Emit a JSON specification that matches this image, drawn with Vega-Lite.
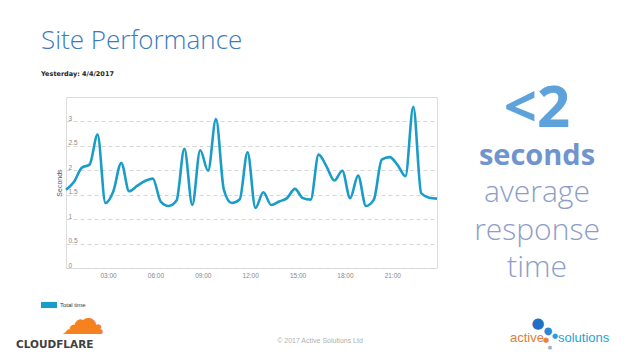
{
  "$schema": "https://vega.github.io/schema/vega-lite/v6.json",
  "background": "white",
  "padding": {"left": 16, "top": 27, "right": 0, "bottom": 0},
  "title": {
    "text": "Site Performance",
    "subtitle": "Yesterday: 4/4/2017",
    "anchor": "start",
    "frame": "bounds",
    "dx": 25,
    "font": "Open Sans",
    "fontSize": 26,
    "fontWeight": 300,
    "color": "#3a7bbf",
    "subtitleFont": "DejaVu Sans",
    "subtitleFontSize": 6.5,
    "subtitleFontWeight": "bold",
    "subtitleColor": "#222222",
    "subtitlePadding": 17,
    "offset": 4
  },
  "datasets": {
    "perf": [
      {"time": "2017-04-04T00:20", "value": 1.60, "series": "Total time"},
      {"time": "2017-04-04T00:50", "value": 1.76, "series": "Total time"},
      {"time": "2017-04-04T01:20", "value": 2.05, "series": "Total time"},
      {"time": "2017-04-04T01:50", "value": 2.12, "series": "Total time"},
      {"time": "2017-04-04T02:20", "value": 2.73, "series": "Total time"},
      {"time": "2017-04-04T02:50", "value": 1.33, "series": "Total time"},
      {"time": "2017-04-04T03:20", "value": 1.57, "series": "Total time"},
      {"time": "2017-04-04T03:50", "value": 2.15, "series": "Total time"},
      {"time": "2017-04-04T04:20", "value": 1.57, "series": "Total time"},
      {"time": "2017-04-04T04:50", "value": 1.68, "series": "Total time"},
      {"time": "2017-04-04T05:20", "value": 1.78, "series": "Total time"},
      {"time": "2017-04-04T05:50", "value": 1.83, "series": "Total time"},
      {"time": "2017-04-04T06:20", "value": 1.36, "series": "Total time"},
      {"time": "2017-04-04T06:50", "value": 1.27, "series": "Total time"},
      {"time": "2017-04-04T07:20", "value": 1.38, "series": "Total time"},
      {"time": "2017-04-04T07:50", "value": 2.44, "series": "Total time"},
      {"time": "2017-04-04T08:20", "value": 1.29, "series": "Total time"},
      {"time": "2017-04-04T08:50", "value": 2.41, "series": "Total time"},
      {"time": "2017-04-04T09:20", "value": 1.99, "series": "Total time"},
      {"time": "2017-04-04T09:50", "value": 3.05, "series": "Total time"},
      {"time": "2017-04-04T10:20", "value": 1.60, "series": "Total time"},
      {"time": "2017-04-04T10:50", "value": 1.33, "series": "Total time"},
      {"time": "2017-04-04T11:20", "value": 1.40, "series": "Total time"},
      {"time": "2017-04-04T11:50", "value": 2.37, "series": "Total time"},
      {"time": "2017-04-04T12:20", "value": 1.23, "series": "Total time"},
      {"time": "2017-04-04T12:50", "value": 1.55, "series": "Total time"},
      {"time": "2017-04-04T13:20", "value": 1.29, "series": "Total time"},
      {"time": "2017-04-04T13:50", "value": 1.36, "series": "Total time"},
      {"time": "2017-04-04T14:20", "value": 1.43, "series": "Total time"},
      {"time": "2017-04-04T14:50", "value": 1.62, "series": "Total time"},
      {"time": "2017-04-04T15:20", "value": 1.43, "series": "Total time"},
      {"time": "2017-04-04T15:50", "value": 1.40, "series": "Total time"},
      {"time": "2017-04-04T16:20", "value": 2.32, "series": "Total time"},
      {"time": "2017-04-04T16:50", "value": 2.08, "series": "Total time"},
      {"time": "2017-04-04T17:20", "value": 1.79, "series": "Total time"},
      {"time": "2017-04-04T17:50", "value": 1.99, "series": "Total time"},
      {"time": "2017-04-04T18:20", "value": 1.43, "series": "Total time"},
      {"time": "2017-04-04T18:50", "value": 1.89, "series": "Total time"},
      {"time": "2017-04-04T19:20", "value": 1.27, "series": "Total time"},
      {"time": "2017-04-04T19:50", "value": 1.40, "series": "Total time"},
      {"time": "2017-04-04T20:20", "value": 2.22, "series": "Total time"},
      {"time": "2017-04-04T20:50", "value": 2.27, "series": "Total time"},
      {"time": "2017-04-04T21:20", "value": 2.11, "series": "Total time"},
      {"time": "2017-04-04T21:50", "value": 1.88, "series": "Total time"},
      {"time": "2017-04-04T22:20", "value": 3.30, "series": "Total time"},
      {"time": "2017-04-04T22:50", "value": 1.53, "series": "Total time"},
      {"time": "2017-04-04T23:20", "value": 1.44, "series": "Total time"},
      {"time": "2017-04-04T23:50", "value": 1.42, "series": "Total time"}
    ],
    "side": [
      {"t": "<2"},
      {"t": "seconds"},
      {"t": "average"},
      {"t": "response"},
      {"t": "time"}
    ],
    "foot": [
      {"slot": "left", "label": "CLOUDFLARE"},
      {"slot": "center", "label": "© 2017 Active Solutions Ltd"},
      {"slot": "right", "label": "active"},
      {"slot": "right", "label": "solutions"}
    ]
  },
  "vconcat": [
    {
      "hconcat": [
        {
          "width": 371,
          "height": 171,
          "data": {"name": "perf"},
          "mark": {"type": "line", "strokeWidth": 2.6, "interpolate": "monotone"},
          "encoding": {
            "x": {
              "field": "time",
              "type": "temporal",
              "axis": {
                "title": null,
                "format": "%H:%M",
                "values": [
                  {"year": 2017, "month": 4, "date": 4, "hours": 3},
                  {"year": 2017, "month": 4, "date": 4, "hours": 6},
                  {"year": 2017, "month": 4, "date": 4, "hours": 9},
                  {"year": 2017, "month": 4, "date": 4, "hours": 12},
                  {"year": 2017, "month": 4, "date": 4, "hours": 15},
                  {"year": 2017, "month": 4, "date": 4, "hours": 18},
                  {"year": 2017, "month": 4, "date": 4, "hours": 21}
                ],
                "ticks": false,
                "domain": false,
                "grid": false,
                "labelFontSize": 6.5,
                "labelColor": "#888888",
                "labelPadding": 4
              }
            },
            "y": {
              "field": "value",
              "type": "quantitative",
              "scale": {"domain": [0, 3.5], "nice": false},
              "axis": {
                "title": "Seconds",
                "titleFontSize": 7,
                "titleFontWeight": "normal",
                "titleColor": "#555555",
                "titleX": -4,
                "values": [0, 0.5, 1, 1.5, 2, 2.5, 3],
                "format": "~g",
                "grid": true,
                "gridDash": [4, 3],
                "gridColor": "#d6d6d6",
                "ticks": false,
                "domain": false,
                "labelAlign": "left",
                "labelBaseline": "bottom",
                "labelPadding": -2,
                "labelFontSize": 6.5,
                "labelColor": "#888888"
              }
            },
            "color": {
              "field": "series",
              "type": "nominal",
              "scale": {"range": ["#1a9cc8"]},
              "legend": {
                "title": null,
                "orient": "none",
                "legendX": -25,
                "legendY": 200,
                "padding": 0,
                "symbolType": "M-1,-0.38H1V0.38H-1Z",
                "symbolSize": 256,
                "labelFontSize": 6,
                "labelColor": "#333333",
                "labelOffset": 3,
                "encode": {"symbols": {"update": {"fill": {"value": "#1a9cc8"}, "fillOpacity": {"value": 1}, "strokeWidth": {"value": 0}}}}
              }
            }
          }
        },
        {
          "width": 160,
          "height": 210,
          "view": {"stroke": null},
          "data": {"name": "side"},
          "encoding": {
            "y": {
              "field": "t",
              "type": "nominal",
              "scale": {"type": "point", "padding": 0.8, "domain": ["<2", "seconds", "average", "response", "time"]},
              "axis": null
            },
            "text": {"field": "t"}
          },
          "layer": [
            {
              "transform": [{"filter": "datum.t === '<2'"}],
              "mark": {"type": "text", "font": "Open Sans", "fontSize": 58, "fontWeight": "bold", "color": "#5ea2dc", "baseline": "alphabetic"}
            },
            {
              "transform": [{"filter": "datum.t === 'seconds'"}],
              "mark": {"type": "text", "font": "Open Sans", "fontSize": 29, "fontWeight": "bold", "color": "#7094cd", "baseline": "alphabetic"}
            },
            {
              "transform": [{"filter": "datum.t !== '<2' && datum.t !== 'seconds'"}],
              "mark": {"type": "text", "font": "Open Sans", "fontSize": 30, "fontWeight": 300, "color": "#8c9ec8", "baseline": "alphabetic"}
            }
          ]
        }
      ],
      "spacing": 14
    },
    {
      "width": 508,
      "height": 20,
      "view": {"stroke": null},
      "data": {"name": "foot"},
      "encoding": {
        "x": {
          "field": "slot",
          "type": "nominal",
          "scale": {"type": "point", "padding": 0, "domain": ["left", "center", "right"]},
          "axis": null
        },
        "text": {"field": "label"}
      },
      "layer": [
        {
          "transform": [{"filter": "datum.label === 'CLOUDFLARE'"}],
          "mark": {"type": "text", "font": "DejaVu Sans", "fontSize": 44, "color": "#f6821f", "dx": 17, "dy": -20, "baseline": "middle"},
          "encoding": {"text": {"value": "☁"}}
        },
        {
          "transform": [{"filter": "datum.label === 'CLOUDFLARE'"}],
          "mark": {"type": "text", "font": "DejaVu Sans", "fontSize": 10.5, "fontWeight": "bold", "color": "#404041", "align": "left", "baseline": "middle", "dx": -50, "dy": 4}
        },
        {
          "transform": [{"filter": "datum.slot === 'center'"}],
          "mark": {"type": "text", "font": "Liberation Sans", "fontSize": 7, "color": "#b0b0b0", "baseline": "middle"}
        },
        {
          "transform": [{"filter": "datum.label === 'active'"}],
          "mark": {"type": "text", "font": "Liberation Sans", "fontSize": 13, "color": "#e07d3c", "align": "right", "baseline": "alphabetic", "dx": -30, "dy": 1}
        },
        {
          "transform": [{"filter": "datum.label === 'solutions'"}],
          "mark": {"type": "text", "font": "Liberation Sans", "fontSize": 13, "color": "#2a9fd6", "align": "left", "baseline": "alphabetic", "dx": -16, "dy": 1}
        },
        {
          "transform": [{"filter": "datum.label === 'active'"}],
          "mark": {"type": "text", "font": "DejaVu Sans", "fontSize": 15, "color": "#1f6fc5", "align": "center", "baseline": "middle", "dx": -36, "dy": -18},
          "encoding": {"text": {"value": "●"}}
        },
        {
          "transform": [{"filter": "datum.label === 'active'"}],
          "mark": {"type": "text", "font": "DejaVu Sans", "fontSize": 10, "color": "#2a86d6", "align": "center", "baseline": "middle", "dx": -26, "dy": -10},
          "encoding": {"text": {"value": "●"}}
        },
        {
          "transform": [{"filter": "datum.label === 'active'"}],
          "mark": {"type": "text", "font": "DejaVu Sans", "fontSize": 7, "color": "#2a9fd6", "align": "center", "baseline": "middle", "dx": -19, "dy": -5},
          "encoding": {"text": {"value": "●"}}
        },
        {
          "transform": [{"filter": "datum.label === 'active'"}],
          "mark": {"type": "text", "font": "DejaVu Sans", "fontSize": 7, "color": "#e8823a", "align": "center", "baseline": "middle", "dx": -28, "dy": -1},
          "encoding": {"text": {"value": "●"}}
        },
        {
          "transform": [{"filter": "datum.label === 'active'"}],
          "mark": {"type": "text", "font": "DejaVu Sans", "fontSize": 5, "color": "#9ab0d0", "align": "center", "baseline": "middle", "dx": -24, "dy": 6},
          "encoding": {"text": {"value": "●"}}
        }
      ]
    }
  ],
  "spacing": -8,
  "config": {"view": {"stroke": "#dddddd"}, "font": "Liberation Sans"}
}
